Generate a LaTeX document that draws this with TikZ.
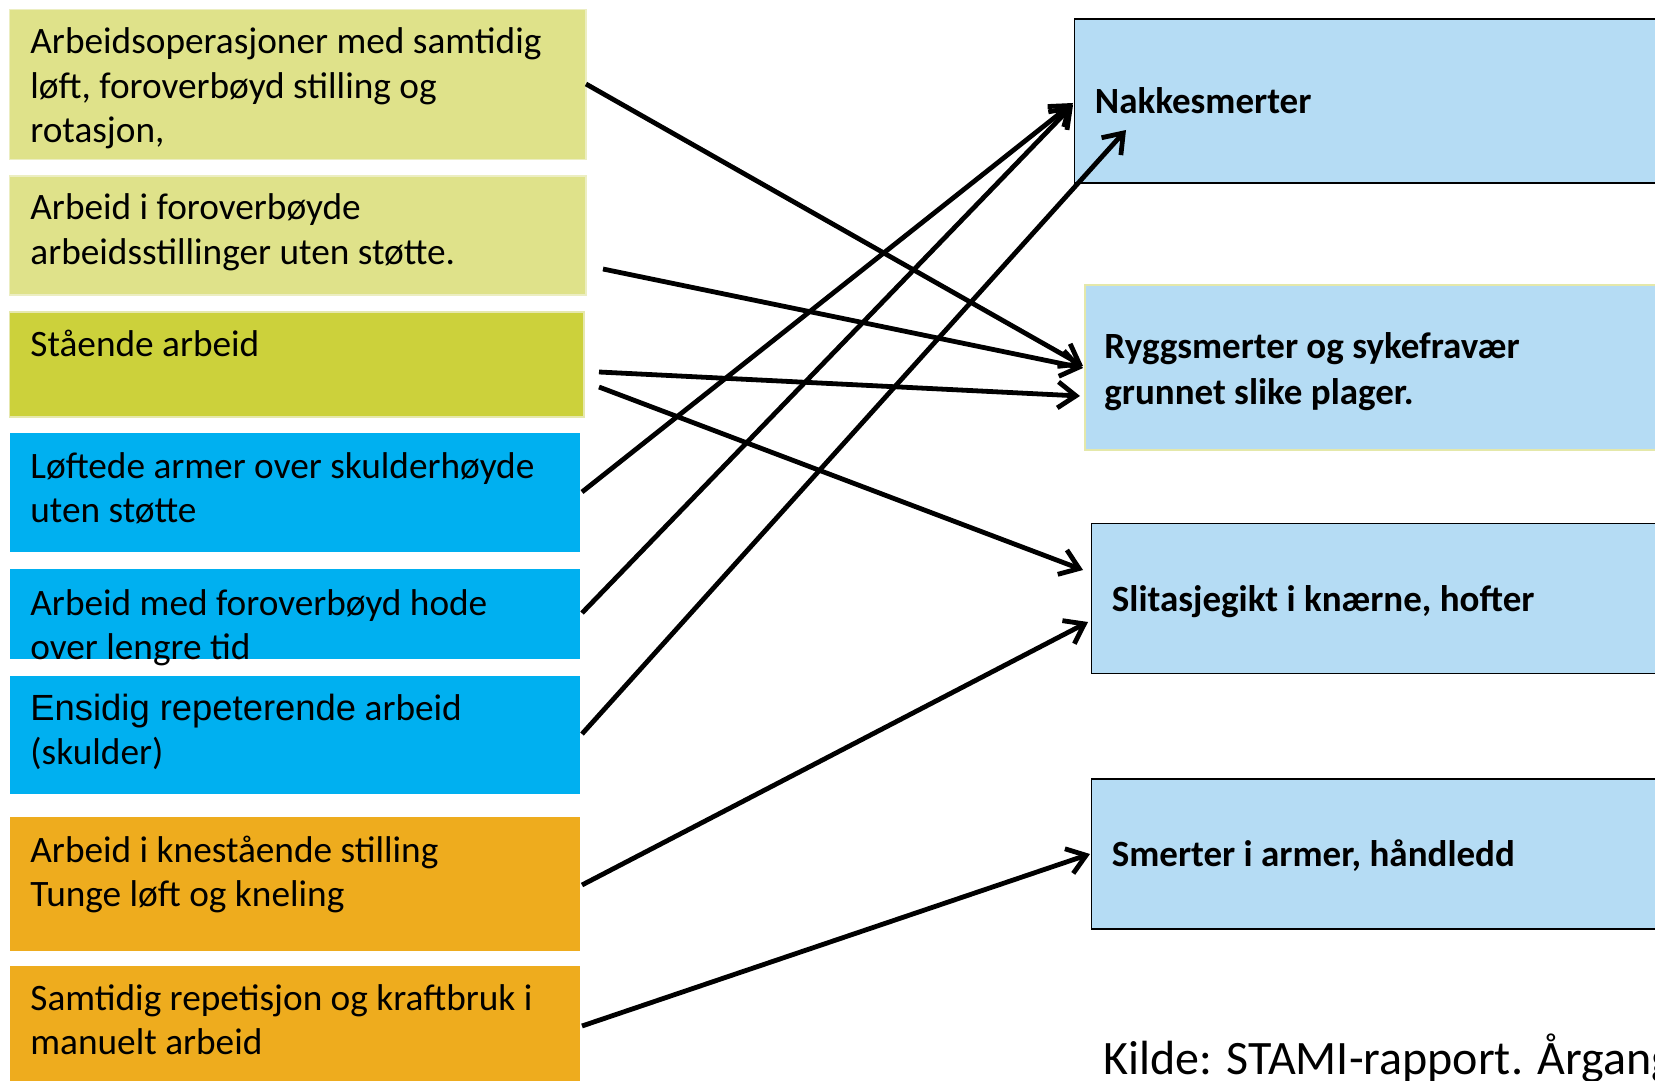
\documentclass[tikz,border=0pt]{standalone}
\usepackage{fontspec}
\setmainfont{Carlito}
\newfontfamily\arialfont{Liberation Sans}
\usetikzlibrary{arrows.meta,fit}
\definecolor{oliveL}{HTML}{DFE28A}
\definecolor{oliveLb}{HTML}{ECEEC2}
\definecolor{oliveD}{HTML}{CCD13B}
\definecolor{oliveDb}{HTML}{E6E8AE}
\definecolor{cyanB}{HTML}{00B0F0}
\definecolor{orangeB}{HTML}{EEAC1E}
\definecolor{paleB}{HTML}{B5DCF4}
\definecolor{paleBb}{HTML}{E4E8AA}
\begin{document}
\begin{tikzpicture}[x=0.5pt,y=-0.5pt,
  box/.style={inner sep=0pt, outer sep=0pt, line width=0.8pt},
  txt/.style={inner sep=0pt, anchor=base west, font=\fontsize{18.65}{22.2}\selectfont},
  btxt/.style={inner sep=0pt, anchor=base west, font=\fontsize{18.5}{21.7}\selectfont\bfseries},
  arr/.style={line width=2.4pt, -{Straight Barb[length=9pt,width=13pt]}}]
\useasboundingbox (0,0) rectangle (1655,1081);
\clip (0,0) rectangle (1655,1081);
\fill[white] (0,0) rectangle (1655,1081);
% left boxes
\node[box, fill=oliveL, draw=oliveLb, fit={(9.5,9.5) (585.8,159.5)}] (b1) {};
\node[box, fill=oliveL, draw=oliveLb, fit={(9.5,176.3) (585.8,294.8)}] (b2) {};
\node[box, fill=oliveD, draw=oliveDb, fit={(9.5,312) (583.7,416.8)}] (b3) {};
\node[box, fill=cyanB, fit={(9.5,433) (579.8,552)}] (b4) {};
\node[box, fill=cyanB, fit={(9.5,569) (579.8,659.3)}] (b5) {};
\node[box, fill=cyanB, fit={(9.5,675.5) (579.8,794)}] (b6) {};
\node[box, fill=orangeB, fit={(9.5,817) (579.8,950.5)}] (b7) {};
\node[box, fill=orangeB, fit={(9.5,966) (579.8,1090)}] (b8) {};
% right boxes
\node[box, fill=paleB, draw=black, fit={(1074.5,19) (1665,183)}] (r1) {};
\node[box, fill=paleB, draw=paleBb, fit={(1085,285) (1665,450)}] (r2) {};
\node[box, fill=paleB, draw=black, fit={(1091.4,523.5) (1665,673.4)}] (r3) {};
\node[box, fill=paleB, draw=black, fit={(1091.4,779) (1665,928.8)}] (r4) {};
% left texts
\node[txt] (t1) at (30,54) {\parbox[t]{300pt}{Arbeidsoperasjoner med samtidig\\løft, foroverbøyd stilling og\\rotasjon,}};
\node[txt] (t2) at (30,220) {\parbox[t]{300pt}{Arbeid i foroverbøyde\\arbeidsstillinger uten støtte.}};
\node[txt] (t3) at (30,356) {Stående arbeid};
\node[txt] (t4) at (30,478) {\parbox[t]{300pt}{Løftede armer over skulderhøyde\\uten støtte}};
\node[txt] (t5) at (30,615) {\parbox[t]{300pt}{Arbeid med foroverbøyd hode\\over lengre tid}};
\node[txt] (t6) at (30,720) {\parbox[t]{300pt}{{\arialfont\fontsize{18.2}{22.2}\selectfont Ensidig repeterende} arbeid\\(skulder)}};
\node[txt] (t7) at (30,862) {\parbox[t]{300pt}{Arbeid i knestående stilling\\Tunge løft og kneling}};
\node[txt] (t8) at (30,1010) {\parbox[t]{300pt}{Samtidig repetisjon og kraftbruk i\\manuelt arbeid}};
% right texts
\node[btxt] (u1) at (1094.5,113.5) {Nakkesmerter};
\node[btxt] (u2) at (1104,358.3) {\parbox[t]{300pt}{Ryggsmerter og sykefravær\\[1.2pt]grunnet slike plager.}};
\node[btxt] (u3) at (1111.5,611) {Slitasjegikt i knærne, hofter};
\node[btxt] (u4) at (1111.5,866.5) {Smerter i armer, håndledd};
\node[txt, font=\fontsize{24}{28}\selectfont] (src) at (1103,1074) {Kilde: STAMI-rapport. Årgang};
% arrow end points
\coordinate (s1) at (586,84);   \coordinate (e1) at (1083,366);
\coordinate (s2) at (603,269);  \coordinate (e2) at (1083,368);
\coordinate (s3) at (599,372);  \coordinate (e3) at (1080,396);
\coordinate (s4) at (599,387);  \coordinate (e4) at (1083,570);
\coordinate (s5) at (582,492);  \coordinate (e5) at (1073,103);
\coordinate (s6) at (582,613);  \coordinate (e6) at (1073,105);
\coordinate (s7) at (582,734);  \coordinate (e7) at (1126,130);
\coordinate (s8) at (582,885);  \coordinate (e8) at (1088,622);
\coordinate (s9) at (582,1026); \coordinate (e9) at (1090,854);
\foreach \i in {1,...,9} {\draw[arr] (s\i) -- (e\i);}
\end{tikzpicture}
\end{document}
